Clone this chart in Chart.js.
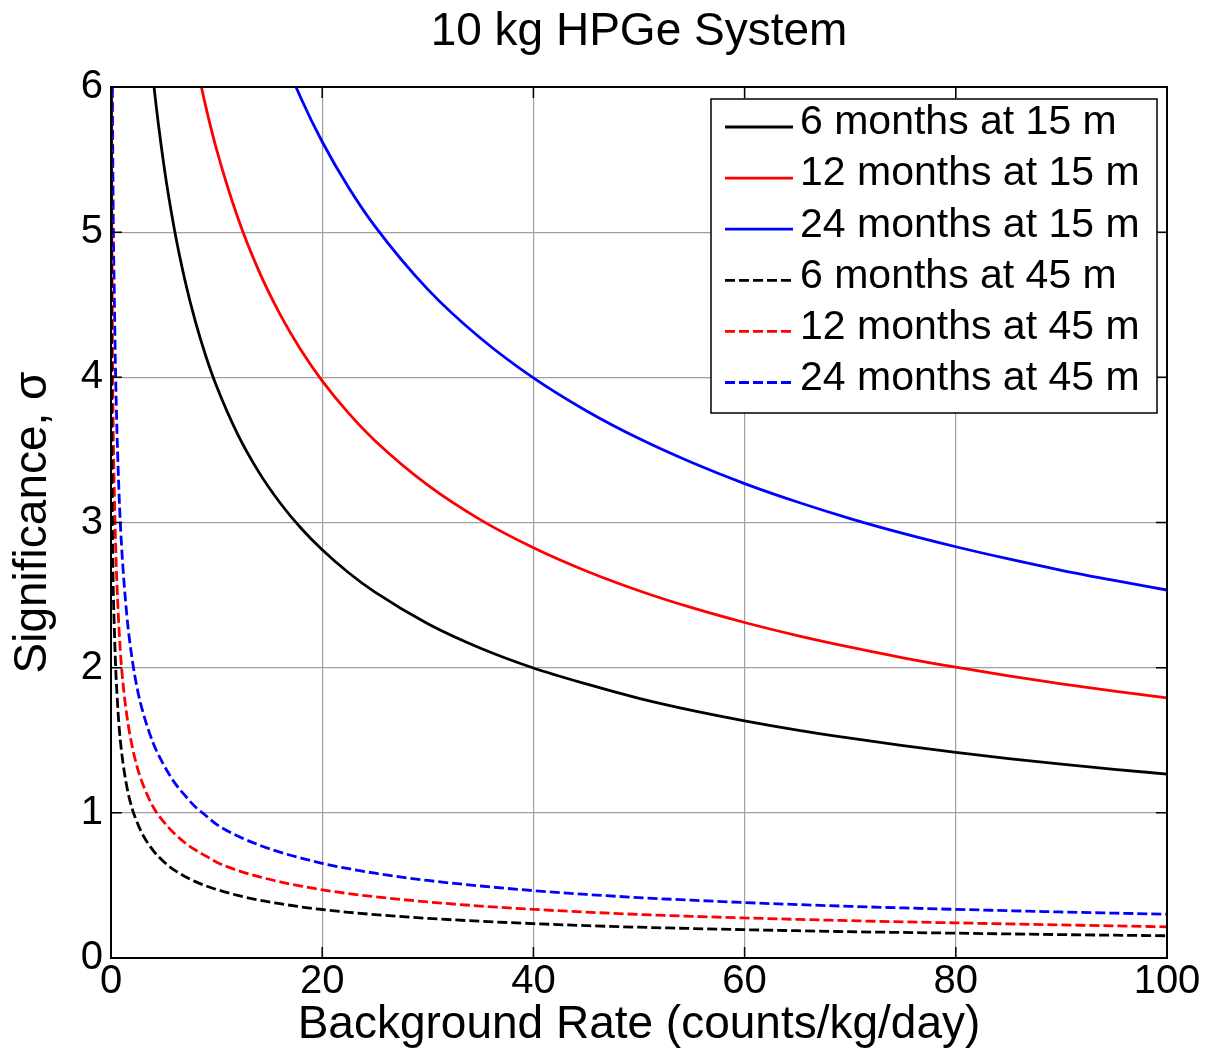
<!DOCTYPE html>
<html>
<head>
<meta charset="utf-8">
<title>10 kg HPGe System</title>
<script src="https://cdn.jsdelivr.net/npm/chart.js@4.4.1/dist/chart.umd.min.js"></script>
<style>
  html, body { margin: 0; padding: 0; background: #fff; }
  canvas { display: block; }
</style>
</head>
<body>
<canvas id="grafico" width="1205" height="1049"></canvas>
<script>
// background rate, counts/kg/day
const bgRate = [0.01, 0.05, 0.1, 0.2, 0.3, 0.4, 0.5, 0.75, 1, 1.5,
  2, 2.5, 3, 4, 5, 6, 7, 8, 9, 10,
  12, 14, 16, 18, 20, 22.5, 25, 30, 35, 40,
  45, 50, 55, 60, 65, 70, 75, 80, 85, 90,
  95, 100];

// significance, 15 m depth
const sig6m15 = [19.8, 18.9, 18.0, 16.4, 15.2, 14.2, 13.4, 11.8, 10.7, 9.21,
  8.199, 7.457, 6.887, 6.053, 5.465, 5.020, 4.669, 4.382, 4.142, 3.938,
  3.607, 3.347, 3.136, 2.960, 2.812, 2.654, 2.520, 2.303, 2.134, 1.998,
  1.888, 1.789, 1.706, 1.634, 1.570, 1.514, 1.463, 1.416, 1.374, 1.336,
  1.300, 1.267];
const sig12m15 = [28.0, 26.8, 25.4, 23.2, 21.5, 20.1, 18.9, 16.8, 15.2, 13.0,
  11.59, 10.55, 9.740, 8.561, 7.728, 7.099, 6.603, 6.197, 5.858, 5.569,
  5.101, 4.733, 4.435, 4.187, 3.976, 3.753, 3.563, 3.257, 3.018, 2.826,
  2.666, 2.530, 2.413, 2.311, 2.221, 2.141, 2.068, 2.003, 1.944, 1.889,
  1.839, 1.792];
const sig24m15 = [39.7, 37.9, 35.9, 32.8, 30.4, 28.4, 26.8, 23.7, 21.5, 18.4,
  16.40, 14.91, 13.77, 12.11, 10.93, 10.04, 9.338, 8.764, 8.284, 7.876,
  7.214, 6.693, 6.272, 5.921, 5.623, 5.308, 5.040, 4.606, 4.269, 3.996,
  3.770, 3.578, 3.413, 3.268, 3.141, 3.027, 2.925, 2.833, 2.749, 2.671,
  2.601, 2.535];

// 45 m depth
const sig6m45 = [7.0, 4.2, 3.3, 2.6, 2.31, 2.08, 1.91, 1.61, 1.42, 1.18,
  1.03, 0.93, 0.85, 0.74, 0.663, 0.606, 0.562, 0.526, 0.497, 0.472,
  0.431, 0.399, 0.374, 0.352, 0.334, 0.315, 0.299, 0.273, 0.253, 0.237,
  0.223, 0.212, 0.203, 0.195, 0.188, 0.181, 0.176, 0.171, 0.166, 0.161,
  0.157, 0.153];
const sig12m45 = [9.9, 5.9, 4.7, 3.7, 3.27, 2.94, 2.70, 2.28, 2.00, 1.67,
  1.46, 1.31, 1.20, 1.04, 0.937, 0.857, 0.794, 0.744, 0.702, 0.660,
  0.603, 0.560, 0.525, 0.495, 0.470, 0.444, 0.422, 0.386, 0.358, 0.335,
  0.316, 0.300, 0.287, 0.276, 0.266, 0.257, 0.249, 0.242, 0.235, 0.228,
  0.221, 0.215];
const sig24m45 = [14.0, 8.4, 6.6, 5.2, 4.63, 4.16, 3.81, 3.22, 2.84, 2.36,
  2.06, 1.85, 1.70, 1.48, 1.33, 1.21, 1.12, 1.04, 0.98, 0.920,
  0.840, 0.779, 0.729, 0.688, 0.652, 0.615, 0.584, 0.534, 0.496, 0.464,
  0.438, 0.416, 0.398, 0.382, 0.368, 0.356, 0.345, 0.335, 0.326, 0.317,
  0.309, 0.302];

const seriesLabels = ['6 months at 15 m', '12 months at 15 m', '24 months at 15 m',
  '6 months at 45 m', '12 months at 45 m', '24 months at 45 m'];
const xTicks = [0, 20, 40, 60, 80, 100];
const yTicks = [0, 1, 2, 3, 4, 5, 6];
const tituloTexto = '10 kg HPGe System';

const FUENTE = '"Liberation Sans", Arial, Helvetica, sans-serif';
Chart.defaults.font.family = FUENTE;
Chart.defaults.color = '#000';

function serie(label, valores, color, guiones) {
  return {
    label: label,
    data: bgRate.map((x, i) => ({ x: x, y: valores[i] })),
    borderColor: color,
    borderWidth: 2.8,
    borderDash: guiones ? [10, 4] : [],
    pointRadius: 0,
    fill: false,
    cubicInterpolationMode: 'monotone'
  };
}

// title centred over the axes, like matlab does
const tituloEjes = {
  id: 'tituloEjes',
  afterDraw(chart) {
    const { ctx, chartArea: a } = chart;
    ctx.save();
    ctx.font = '46px ' + FUENTE;
    ctx.fillStyle = '#000';
    ctx.textAlign = 'center';
    ctx.textBaseline = 'middle';
    ctx.fillText(tituloTexto, (a.left + a.right) / 2, 32);
    ctx.restore();
  }
};

// axes box with inward ticks on all four sides (matlab style)
const marcoEjes = {
  id: 'marcoEjes',
  afterDatasetsDraw(chart) {
    const { ctx, chartArea: a, scales } = chart;
    const largo = 11;
    ctx.save();
    ctx.strokeStyle = '#000';
    ctx.lineWidth = 1.5;
    ctx.beginPath();
    xTicks.forEach(v => {
      const px = scales.x.getPixelForValue(v);
      ctx.moveTo(px, a.bottom); ctx.lineTo(px, a.bottom - largo);
      ctx.moveTo(px, a.top); ctx.lineTo(px, a.top + largo);
    });
    yTicks.forEach(v => {
      const py = scales.y.getPixelForValue(v);
      ctx.moveTo(a.left, py); ctx.lineTo(a.left + largo, py);
      ctx.moveTo(a.right, py); ctx.lineTo(a.right - largo, py);
    });
    ctx.stroke();
    ctx.lineWidth = 2;
    ctx.strokeRect(a.left, a.top, a.right - a.left, a.bottom - a.top);
    ctx.restore();
  }
};

// legend box inside the axes, top right
const leyendaCaja = {
  id: 'leyendaCaja',
  afterDatasetsDraw(chart) {
    const { ctx, chartArea: a } = chart;
    const w = 446, h = 314;
    const left = a.right - 10 - w, top = a.top + 12;
    ctx.save();
    ctx.fillStyle = '#fff';
    ctx.fillRect(left, top, w, h);
    ctx.lineWidth = 1.5;
    ctx.strokeStyle = '#000';
    ctx.strokeRect(left, top, w, h);
    ctx.font = '41px ' + FUENTE;
    ctx.textBaseline = 'middle';
    chart.data.datasets.forEach((ds, i) => {
      const y = top + 28 + i * 51.1;
      ctx.beginPath();
      ctx.setLineDash(ds.borderDash);
      ctx.strokeStyle = ds.borderColor;
      ctx.lineWidth = 2.8;
      ctx.moveTo(left + 14, y);
      ctx.lineTo(left + 82, y);
      ctx.stroke();
      ctx.setLineDash([]);
      ctx.fillStyle = '#000';
      ctx.fillText(ds.label, left + 89, y - 4);
    });
    ctx.restore();
  }
};

const ctx = document.getElementById('grafico').getContext('2d');
new Chart(ctx, {
  type: 'line',
  data: {
    datasets: [
      serie(seriesLabels[0], sig6m15, '#000000', false),
      serie(seriesLabels[1], sig12m15, '#ff0000', false),
      serie(seriesLabels[2], sig24m15, '#0000ff', false),
      serie(seriesLabels[3], sig6m45, '#000000', true),
      serie(seriesLabels[4], sig12m45, '#ff0000', true),
      serie(seriesLabels[5], sig24m45, '#0000ff', true)
    ]
  },
  options: {
    responsive: false,
    animation: false,
    devicePixelRatio: 1,
    layout: { padding: { left: 0, right: 38, top: 87, bottom: 0 } },
    plugins: {
      legend: { display: false },
      tooltip: { enabled: false },
      title: { display: false }
    },
    scales: {
      x: {
        type: 'linear',
        min: 0,
        max: 100,
        afterFit(scale) { scale.height = 91; },
        afterBuildTicks(scale) { scale.ticks = xTicks.map(v => ({ value: v })); },
        ticks: { font: { size: 40 }, color: '#000', padding: 0, maxRotation: 0 },
        grid: { color: '#a0a0a0', lineWidth: 1.2, drawTicks: false },
        border: { display: false },
        title: {
          display: true,
          text: 'Background Rate (counts/kg/day)',
          font: { size: 46 },
          color: '#000',
          padding: { top: 0, bottom: -4 }
        }
      },
      y: {
        type: 'linear',
        min: 0,
        max: 6,
        afterFit(scale) { scale.width = 111; },
        afterBuildTicks(scale) { scale.ticks = yTicks.map(v => ({ value: v })); },
        ticks: { font: { size: 40 }, color: '#000', padding: 8 },
        grid: { color: '#a0a0a0', lineWidth: 1.2, drawTicks: false },
        border: { display: false },
        title: {
          display: true,
          text: 'Significance, σ',
          font: { size: 46 },
          color: '#000',
          padding: { top: 6, bottom: 0 }
        }
      }
    }
  },
  plugins: [marcoEjes, leyendaCaja, tituloEjes]
});
</script>
</body>
</html>
